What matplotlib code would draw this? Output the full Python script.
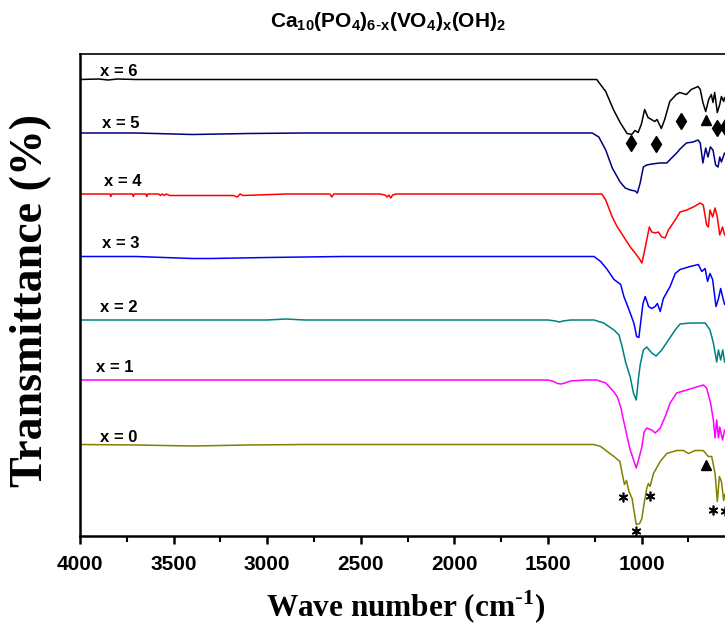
import numpy as np
import matplotlib
matplotlib.use('Agg')
import matplotlib.pyplot as plt

# FTIR spectra of Ca10(PO4)6-x(VO4)x(OH)2
# every spectrum: wave numbers and drop below its own baseline

labels = ['x = 0', 'x = 1', 'x = 2', 'x = 3', 'x = 4', 'x = 5', 'x = 6']
colors = ['#808000', '#ff00ff', '#008080', '#0000ff', '#ff0000', '#000080', '#000000']
baselines = [91.5, 156, 216, 279.5, 342, 403, 456.5]

wn_x0 = [4000, 3700, 3400, 3100, 2800, 2000, 1600, 1300, 1255, 1219, 1184, 1148, 1116, 1104, 1092, 1081,
         1068, 1051, 1043, 1029, 1011, 999, 987, 973, 964, 955, 937, 901, 866, 813, 777, 750, 715,
         671, 644, 626, 608, 596, 585, 574, 562, 557, 520, 450]
dT_x0 = [0, -0.5, -1.5, -0.5, 0, 0, 0, 0, 0, -2, -7, -12, -17, -29, -40, -36,
         -47, -54, -64, -80, -79, -74, -59, -44, -39, -42, -29, -17, -9, -6, -6, -9, -6,
         -6, -12, -12, -29, -57, -32, -37, -56, -50, -45, -45]

wn_x1 = [4000, 3600, 3000, 2500, 2000, 1600, 1500, 1470, 1450, 1430, 1410, 1380, 1300, 1240, 1192, 1148,
         1130, 1112, 1095, 1077, 1061, 1043, 1029, 1017, 999, 987, 973, 946, 928, 901, 875, 848, 813,
         777, 724, 671, 653, 632, 617, 608, 599, 590, 583, 568, 557, 520, 450]
dT_x1 = [0, 0, 0, 0, 0, 0, 0, -1.5, -3.5, -4, -3, -1, 0, 0, -3, -12,
         -17, -27, -42, -57, -70, -80, -88, -80, -67, -52, -48, -50, -53, -48, -37, -23, -13,
         -11, -8, -5, -8, -23, -40, -58, -40, -58, -47, -60, -50, -52, -52]

wn_x2 = [4000, 3600, 3000, 2900, 2800, 2000, 1500, 1460, 1440, 1420, 1380, 1255, 1203, 1148, 1121,
         1104, 1086, 1061, 1044, 1029, 1017, 1008, 991, 973, 946, 923, 893, 857, 821, 795, 741, 661,
         635, 617, 599, 590, 578, 567, 557, 520, 450]
dT_x2 = [0, 0, 0, 1, 0, 0, 0, -1, -2, -1, 0, 0, -3, -10, -15,
         -27, -42, -57, -73, -80, -58, -45, -30, -27, -33, -36, -30, -20, -10, -4, -3, -3,
         -10, -23, -42, -30, -40, -30, -42, -40, -40]

wn_x3 = [4000, 3700, 3400, 3300, 3000, 2600, 2000, 1500, 1255, 1219, 1184, 1148, 1112, 1095, 1068,
         1041, 1027, 1015, 1008, 993, 981, 963, 946, 928, 916, 901, 884, 848, 821, 795, 741, 697,
         679, 661, 648, 635, 621, 603, 591, 578, 568, 557, 520, 450]
dT_x3 = [0, 0, -2, -2, -1, 0, 0, 0, 0, -5, -13, -23, -28, -40, -53,
         -67, -80, -81, -70, -47, -40, -50, -52, -50, -47, -55, -42, -30, -17, -13, -10, -8,
         -15, -12, -25, -17, -23, -50, -43, -32, -40, -48, -45, -45]

wn_x4 = [4000, 3900, 3840, 3835, 3830, 3720, 3715, 3710, 3648, 3643, 3638, 3580, 3570, 3560, 3550,
         3540, 3520, 3505, 3300, 3180, 3160, 3145, 3130, 2900, 2665, 2655, 2645, 2400, 2370, 2360,
         2350, 2340, 2330, 2310, 2000, 1500, 1213, 1192, 1157, 1130, 1095, 1061, 1035, 1008, 999,
         987, 973, 959, 946, 928, 911, 893, 875, 857, 821, 795, 759, 724, 688, 671, 653, 644, 635,
         621, 608, 596, 583, 568, 557, 520, 450]
dT_x4 = [0, 0, 0, -2.5, 0, 0, -2.5, 0, 0, -2.5, 0, 0, -1.5, 0, -1.5,
         0, -1.5, -1.5, -1.5, -1.5, -3, 0, -1.5, 0, 0, -3, 0, 0, -1, -3,
         -1, -4, -1, 0, 0, 0, 0, -6, -23, -33, -43, -53, -59, -66, -69,
         -59, -46, -33, -38, -39, -38, -43, -44, -36, -26, -18, -16, -13, -9, -11, -31, -33, -16,
         -23, -14, -23, -41, -33, -41, -38, -38]

wn_x5 = [4000, 3700, 3400, 3100, 2800, 2000, 1500, 1264, 1229, 1192, 1157, 1130, 1115, 1088, 1061,
         1035, 1023, 1008, 991, 973, 946, 902, 866, 840, 813, 795, 761, 726, 699, 687, 673, 658,
         646, 633, 619, 605, 592, 583, 574, 565, 557, 520, 450]
dT_x5 = [0, 0, -1.5, -0.5, 0, 0, 0, 0, -4, -17, -35, -44, -49, -55, -57,
         -58, -60, -50, -34, -32, -31, -30, -30, -25, -20, -16, -10, -9, -7, -10, -30, -15,
         -24, -14, -17, -32, -34, -24, -29, -24, -20, -22, -22]

wn_x6 = [4000, 3900, 3850, 3800, 3700, 3600, 3000, 2000, 1500, 1240, 1192, 1151, 1115, 1078, 1053,
         1036, 1019, 1002, 984, 966, 948, 930, 918, 895, 877, 850, 815, 797, 761, 735, 699, 687,
         673, 658, 642, 628, 619, 610, 596, 583, 574, 562, 557, 520, 450]
dT_x6 = [0, 0.5, -0.5, 0.5, 0, 0, 0, 0, 0, 0, -12, -30, -43, -54, -55,
         -51, -53, -45, -30, -38, -40, -42, -40, -49, -40, -22, -15, -13, -15, -10, -7, -10,
         -23, -32, -20, -15, -23, -13, -33, -25, -17, -22, -18, -20, -25]

spectra_wn = [wn_x0, wn_x1, wn_x2, wn_x3, wn_x4, wn_x5, wn_x6]
spectra_dT = [dT_x0, dT_x1, dT_x2, dT_x3, dT_x4, dT_x5, dT_x6]

# label positions (wave number, height)
label_wn = [3792, 3815, 3792, 3780, 3770, 3780, 3792]
label_y = [99, 168, 228, 293, 355, 413, 465]

# band markers
diamond_wn = [1055, 921, 791, 598, 557]
diamond_y = [392.7, 392, 415, 408.3, 409]
triangle_wn = [658, 655]
triangle_y = [416, 71]
star_wn = [1098, 957, 1029, 619, 557]
star_y = [39.3, 40, 5.3, 26, 25.3]

major_ticks = [4000, 3500, 3000, 2500, 2000, 1500, 1000]
minor_ticks = [3750, 3250, 2750, 2250, 1750, 1250, 750]

fig = plt.figure(figsize=(7.25, 6.29), dpi=100)
ax = fig.add_axes([80 / 725, 93 / 629, 674 / 725, 482 / 629])

for wn, dT, base, c in zip(spectra_wn, spectra_dT, baselines, colors):
    ax.plot(wn, np.array(dT) + base, color=c, lw=1.1)

for lab, lx, ly in zip(labels, label_wn, label_y):
    ax.text(lx, ly, lab, ha='center', va='center', fontsize=12,
            fontweight='bold', family='Liberation Sans')

ax.plot(diamond_wn, diamond_y, 'd', color='k', ms=8, clip_on=False)
ax.plot(triangle_wn, triangle_y, '^', color='k', ms=7)
ax.plot(star_wn, star_y, ls='none', marker=(6, 2, 0), color='k', ms=7, mew=1.2)

ax.set_xlim(4000, 400)
ax.set_ylim(0, 482)
ax.set_xticks(major_ticks)
ax.set_xticks(minor_ticks, minor=True)
ax.tick_params(axis='x', which='major', length=6, width=1.8, direction='out', pad=8)
ax.tick_params(axis='x', which='minor', length=4, width=1.5, direction='out')
ax.set_yticks([])
for lbl in ax.get_xticklabels():
    lbl.set_fontfamily('Liberation Sans')
    lbl.set_fontweight('bold')
    lbl.set_fontsize(15)
ax.spines['left'].set_linewidth(1.8)
ax.spines['bottom'].set_linewidth(1.8)
ax.spines['top'].set_linewidth(1.2)

fig.text(0.535, 0.966,
         r'Ca$_{\mathregular{10}}$(PO$_{\mathregular{4}}$)$_{\mathregular{6\text{-}x}}$'
         r'(VO$_{\mathregular{4}}$)$_{\mathregular{x}}$(OH)$_{\mathregular{2}}$',
         ha='center', va='center', fontsize=15, fontweight='bold', family='Liberation Sans')
fig.text(0.559, 0.035, r'Wave number (cm$^{\mathregular{\text{-}1}}$)', ha='center', va='center',
         fontsize=22.5, fontweight='bold', family='Liberation Serif')
fig.text(0.042, 0.523, 'Transmittance (%)', ha='center', va='center', rotation=90,
         fontsize=33, fontweight='bold', family='Liberation Serif')

fig.savefig('out.png', dpi=100)
